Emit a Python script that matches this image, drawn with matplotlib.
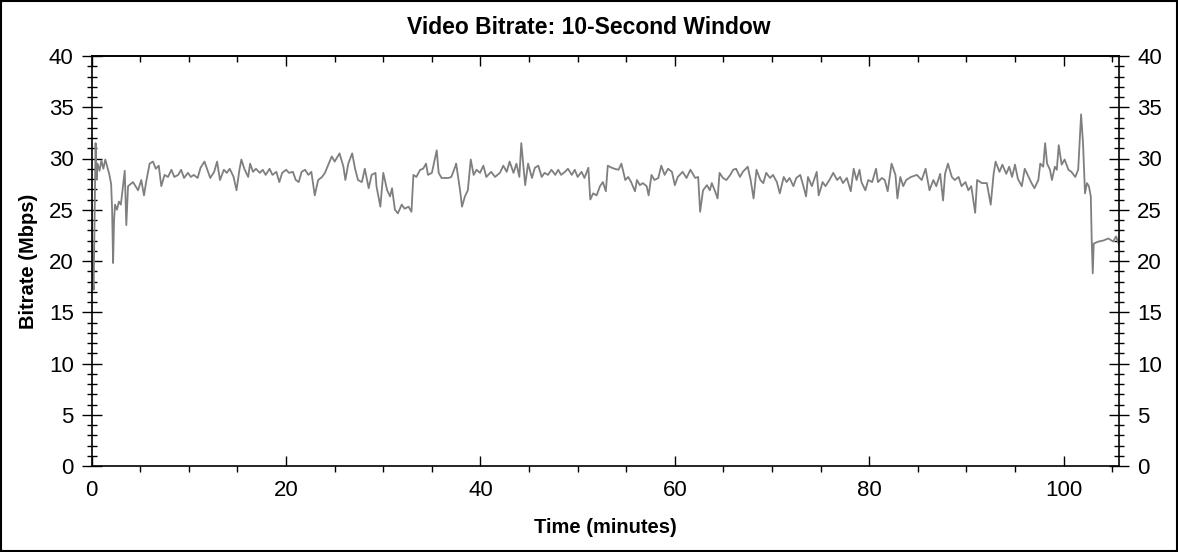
import numpy as np
import matplotlib
matplotlib.use('Agg')
import matplotlib.pyplot as plt
from matplotlib.ticker import MultipleLocator
from matplotlib.patches import Rectangle

# values (minutes, Mbps)
time_min = [
    0.0, 0.1, 0.2, 0.3, 0.4, 0.5, 0.6, 0.8, 1.0, 1.2, 1.4, 1.6, 1.8, 2.0, 2.1, 2.2, 2.3, 2.4, 2.6, 2.8,
    3.0, 3.4, 3.56, 3.74, 4.25, 4.77, 5.1, 5.38, 5.6, 5.96, 6.3, 6.6, 6.9, 7.16, 7.5, 7.85, 8.2, 8.5, 8.9, 9.2,
    9.5, 9.9, 10.2, 10.5, 10.9, 11.2, 11.6, 11.9, 12.2, 12.6, 12.9, 13.2, 13.6, 13.9, 14.2, 14.6, 14.9, 15.2, 15.4, 15.7,
    16.1, 16.3, 16.6, 16.9, 17.3, 17.6, 17.9, 18.3, 18.6, 19.0, 19.3, 19.6, 20.0, 20.3, 20.7, 21.0, 21.3, 21.6, 21.95, 22.3,
    22.6, 22.95, 23.3, 23.7, 24.0, 24.3, 24.7, 25.0, 25.5, 25.9, 26.1, 26.4, 26.8, 27.1, 27.4, 27.8, 28.1, 28.5, 28.8, 29.2,
    29.3, 29.7, 30.0, 30.4, 30.7, 30.9, 31.2, 31.5, 31.9, 32.2, 32.6, 32.9, 33.1, 33.4, 33.8, 34.1, 34.4, 34.6, 35.0, 35.3,
    35.5, 35.7, 36.0, 36.3, 36.7, 37.0, 37.4, 37.5, 37.9, 38.1, 38.4, 38.7, 39.0, 39.3, 39.6, 39.95, 40.3, 40.6, 41.1, 41.5,
    42.0, 42.35, 42.7, 43.0, 43.4, 43.7, 44.0, 44.2, 44.3, 44.6, 44.9, 45.3, 45.6, 45.95, 46.3, 46.6, 46.95, 47.3, 47.7, 48.0,
    48.3, 48.7, 49.0, 49.4, 49.7, 50.0, 50.4, 50.7, 51.1, 51.3, 51.6, 51.95, 52.3, 52.6, 52.9, 53.1, 53.5, 53.8, 54.2, 54.5,
    54.9, 55.2, 55.5, 55.9, 56.1, 56.4, 56.7, 57.1, 57.3, 57.6, 57.9, 58.3, 58.6, 58.95, 59.3, 59.7, 60.0, 60.3, 60.8, 61.2,
    61.6, 62.1, 62.4, 62.6, 62.9, 63.3, 63.6, 63.8, 64.1, 64.4, 64.6, 64.95, 65.3, 65.7, 66.0, 66.3, 66.7, 67.0, 67.5, 67.8,
    68.1, 68.4, 68.8, 69.1, 69.4, 69.8, 70.1, 70.5, 70.8, 71.2, 71.5, 71.8, 72.2, 72.5, 72.9, 73.2, 73.5, 73.7, 74.1, 74.6,
    74.8, 75.2, 75.5, 75.9, 76.3, 76.7, 77.0, 77.3, 77.7, 78.1, 78.4, 78.7, 79.0, 79.2, 79.6, 79.9, 80.3, 80.7, 80.9, 81.3,
    81.6, 81.9, 82.3, 82.7, 82.9, 83.2, 83.5, 83.8, 84.3, 84.9, 85.4, 85.8, 86.2, 86.6, 86.9, 87.3, 87.6, 87.8, 88.1, 88.5,
    88.8, 89.2, 89.5, 89.9, 90.2, 90.5, 90.9, 91.1, 91.6, 92.1, 92.5, 92.8, 93.0, 93.4, 93.7, 94.1, 94.4, 94.7, 95.0, 95.3,
    95.7, 96.0, 96.4, 96.7, 97.0, 97.4, 97.6, 97.9, 98.1, 98.3, 98.6, 98.8, 99.1, 99.3, 99.5, 99.8, 100.1, 100.5, 100.8, 101.2,
    101.5, 101.7, 101.8, 102.0, 102.2, 102.4, 102.6, 102.8, 102.9, 103.0, 103.1, 103.6, 104.1, 104.6, 105.1, 105.4, 105.7,
]
bitrate = [
    25.5, 18.5, 17.2, 24.0, 31.5, 28.0, 29.5, 28.8, 29.8, 29.0, 29.9, 29.2, 28.5, 27.5, 25.0, 19.8, 24.0, 25.5, 25.0, 25.8,
    25.5, 28.8, 23.5, 27.3, 27.7, 26.9, 27.9, 26.4, 27.7, 29.5, 29.7, 29.0, 29.3, 27.3, 28.4, 28.2, 28.9, 28.2, 28.4, 28.9,
    28.1, 28.6, 28.2, 28.4, 28.1, 29.1, 29.7, 28.9, 28.1, 28.7, 29.7, 27.9, 28.9, 28.6, 29.0, 28.2, 26.9, 28.9, 29.9, 29.0,
    28.2, 29.5, 28.7, 29.0, 28.6, 28.9, 28.4, 29.0, 28.4, 28.7, 27.7, 28.6, 28.9, 28.6, 28.7, 27.9, 27.7, 28.7, 28.9, 28.4,
    28.7, 26.4, 27.9, 28.2, 28.6, 29.3, 30.2, 29.7, 30.5, 29.2, 27.9, 29.5, 30.5, 29.0, 27.9, 27.7, 29.0, 27.1, 28.4, 28.6,
    27.3, 25.3, 28.6, 26.9, 26.3, 27.1, 25.0, 24.65, 25.5, 25.1, 25.3, 24.8, 28.4, 28.2, 28.9, 29.0, 29.5, 28.4, 28.6, 29.9,
    30.8, 28.6, 28.1, 28.1, 28.1, 28.2, 29.2, 29.5, 26.9, 25.3, 26.3, 26.9, 29.9, 28.4, 28.9, 28.6, 29.3, 28.2, 28.7, 28.2,
    28.6, 29.3, 28.7, 29.7, 28.6, 29.5, 28.2, 31.5, 30.5, 27.4, 29.5, 28.1, 29.1, 29.3, 28.2, 28.6, 28.4, 28.9, 28.4, 28.9,
    28.4, 28.7, 29.0, 28.4, 28.9, 28.2, 28.7, 28.1, 29.1, 26.0, 26.6, 26.4, 27.3, 27.7, 26.8, 29.3, 29.1, 29.0, 28.9, 29.5,
    27.9, 28.2, 27.7, 26.8, 27.9, 27.4, 27.6, 27.3, 26.4, 28.4, 27.9, 28.1, 29.3, 28.4, 29.0, 28.7, 27.4, 28.2, 28.7, 28.1,
    28.9, 28.1, 28.2, 24.8, 26.9, 27.4, 26.9, 27.6, 26.9, 26.1, 28.6, 28.1, 27.9, 28.4, 28.9, 29.0, 28.2, 28.7, 29.2, 27.9,
    26.1, 28.9, 27.9, 27.6, 28.6, 28.1, 28.4, 27.7, 26.6, 28.2, 27.7, 28.1, 27.3, 28.1, 28.4, 27.4, 26.3, 28.2, 27.3, 28.7,
    26.4, 27.7, 27.3, 27.9, 28.6, 27.9, 28.2, 27.6, 28.1, 26.8, 29.0, 27.9, 28.9, 27.7, 26.9, 27.9, 27.7, 29.0, 27.7, 28.1,
    27.9, 26.8, 29.5, 28.4, 26.1, 28.2, 27.3, 27.9, 28.2, 28.4, 27.9, 29.0, 26.9, 27.9, 27.3, 28.5, 25.9, 28.5, 29.5, 28.2,
    27.9, 28.2, 27.3, 27.7, 26.9, 27.3, 24.7, 27.9, 27.6, 27.6, 25.5, 28.5, 29.7, 28.7, 29.4, 28.5, 29.2, 28.2, 29.4, 28.0,
    27.3, 29.0, 28.2, 27.6, 27.1, 27.9, 29.5, 29.2, 31.5, 29.5, 28.9, 27.9, 29.2, 28.9, 31.3, 29.4, 29.9, 28.9, 28.7, 28.2,
    28.9, 32.5, 34.3, 31.5, 26.6, 27.6, 27.3, 26.3, 21.7, 18.8, 21.7, 21.9, 22.0, 22.2, 21.9, 22.4, 21.6,
]

x_ticks = [0, 20, 40, 60, 80, 100]
y_ticks = [0, 5, 10, 15, 20, 25, 30, 35, 40]

plt.rcParams['font.family'] = ['Liberation Sans', 'DejaVu Sans']

fig = plt.figure(figsize=(11.78, 5.52), dpi=100)
ax = fig.add_axes([91.7 / 1178, 86 / 552, (1119 - 91.7) / 1178, (466 - 56) / 552])

ax.plot(time_min, bitrate, color='#7f7f7f', linewidth=1.3)

ax.set_xlim(0, 105.7)
ax.set_ylim(0, 40)
ax.set_xticks(x_ticks)
ax.set_yticks(y_ticks)
ax.xaxis.set_minor_locator(MultipleLocator(5))
ax.yaxis.set_minor_locator(MultipleLocator(1))

ax.tick_params(axis='y', which='major', direction='inout', length=14, width=1,
               left=True, right=True, labelleft=True, labelright=True, labelsize=16, pad=6)
ax.tick_params(axis='y', which='minor', direction='inout', length=7, width=1, left=True, right=True)
ax.tick_params(axis='x', which='major', direction='in', length=7, width=1,
               top=False, bottom=True, labelsize=16, pad=10)
ax.tick_params(axis='x', which='minor', direction='out', length=4, width=1, top=False, bottom=True)

# top ticks point inward
top = ax.secondary_xaxis('top')
top.set_xticks(x_ticks)
top.xaxis.set_minor_locator(MultipleLocator(5))
top.tick_params(which='major', direction='in', length=7, width=1, labeltop=False)
top.tick_params(which='minor', direction='in', length=4, width=1)

for s in ax.spines.values():
    s.set_linewidth(1.2)
top.spines['top'].set_linewidth(1.2)

# title centred on the whole figure
fig.text(0.5, 1 - 27 / 552, 'Video Bitrate: 10-Second Window', fontsize=16.5, fontweight='bold',
         ha='center', va='center')
ax.set_xlabel('Time (minutes)', fontsize=14.5, fontweight='bold', labelpad=12)
ax.set_ylabel('Bitrate (Mbps)', fontsize=14.5, fontweight='bold', labelpad=8)

# outer frame
fig.patches.append(Rectangle((0.0005, 0.001), 0.999, 0.998, transform=fig.transFigure,
                             fill=False, edgecolor='black', linewidth=1.5))

fig.savefig('out.png', dpi=100)
